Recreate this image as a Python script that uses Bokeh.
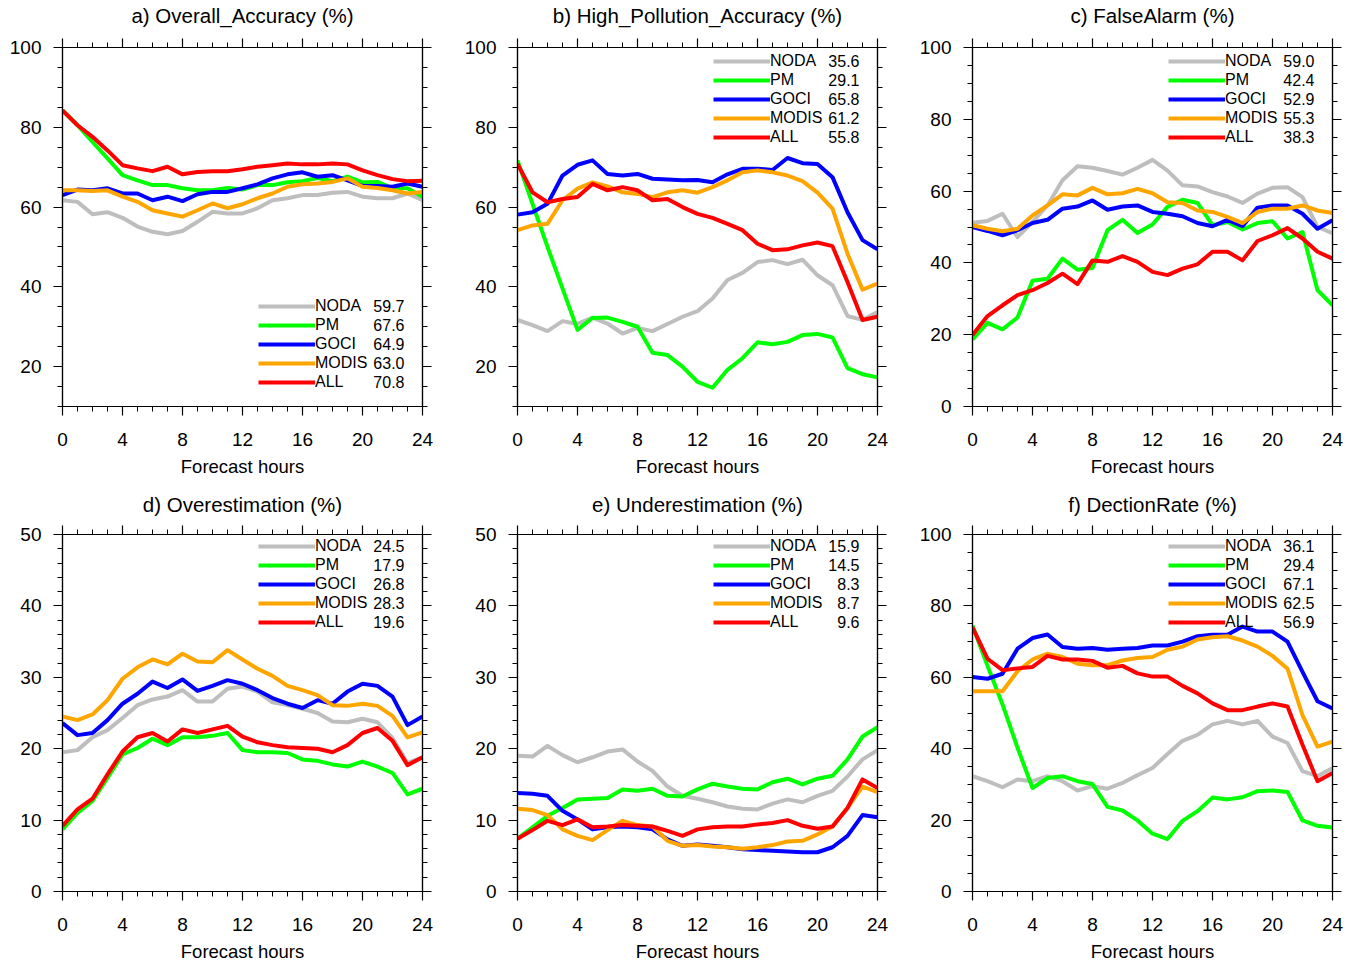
from bokeh.plotting import figure
from bokeh.models import Range1d, FixedTicker, LinearAxis, Legend, LegendItem, Label
from bokeh.layouts import column, row
from bokeh.embed import file_html
from bokeh.resources import INLINE

FONT = "Liberation Sans"

hours = list(range(25))
x_major = [0, 4, 8, 12, 16, 20, 24]
x_minor = list(range(25))

series_names = ["NODA", "PM", "GOCI", "MODIS", "ALL"]
series_colors = ["#bebebe", "#00ff00", "#0000ff", "#ffa500", "#ff0000"]

titles = ["a) Overall_Accuracy (%)", "b) High_Pollution_Accuracy (%)", "c) FalseAlarm (%)",
          "d) Overestimation (%)", "e) Underestimation (%)", "f) DectionRate (%)"]
x_label = "Forecast hours"

ticks_10_100 = [20, 40, 60, 80, 100]
minor_10_100 = list(range(10, 101, 5))
ticks_0_100 = [0, 20, 40, 60, 80, 100]
minor_0_100 = list(range(0, 101, 5))
ticks_0_50 = [0, 10, 20, 30, 40, 50]
minor_0_50 = list(range(0, 51, 2))

# a) Overall accuracy
a_noda = [61.7, 61.3, 58.2, 58.7, 57.3, 55.1, 53.8, 53.2, 54.0, 56.3, 58.8, 58.4, 58.4, 59.7, 61.7, 62.2, 63.0, 63.0, 63.6, 63.8, 62.6, 62.2, 62.2, 63.4, 61.7]
a_pm = [84.2, 80.5, 76.3, 72.2, 68.0, 66.7, 65.5, 65.5, 64.7, 64.2, 64.2, 64.8, 64.4, 65.5, 65.5, 66.2, 66.5, 67.3, 66.5, 67.6, 66.2, 66.3, 64.7, 64.7, 62.6]
a_goci = [63.0, 64.4, 64.2, 64.7, 63.4, 63.4, 61.7, 62.6, 61.5, 63.2, 63.8, 63.8, 64.7, 65.7, 67.2, 68.2, 68.7, 67.6, 68.0, 66.7, 65.3, 65.3, 65.1, 65.9, 65.1]
a_modis = [64.2, 64.2, 64.0, 64.2, 62.6, 61.3, 59.2, 58.4, 57.6, 59.2, 60.9, 59.7, 60.7, 62.2, 63.4, 65.1, 65.7, 65.9, 66.3, 67.2, 65.1, 64.8, 64.2, 63.4, 63.8]
a_all = [84.2, 80.5, 77.6, 74.2, 70.5, 69.7, 69.0, 70.1, 68.2, 68.8, 69.0, 69.0, 69.5, 70.1, 70.5, 70.9, 70.7, 70.7, 70.9, 70.7, 69.2, 68.0, 67.0, 66.5, 66.6]
a_means = [59.7, 67.6, 64.9, 63.0, 70.8]

# b) High pollution accuracy
b_noda = [31.7, 30.4, 28.9, 31.4, 30.7, 32.3, 30.8, 28.3, 29.7, 28.9, 30.7, 32.5, 33.9, 37.1, 41.7, 43.5, 46.2, 46.7, 45.7, 46.8, 42.9, 40.4, 32.7, 31.7, 33.7]
b_pm = [71.7, 60.8, 50.0, 39.6, 29.2, 32.2, 32.3, 31.2, 30.0, 23.5, 22.9, 20.0, 16.2, 14.7, 19.2, 22.1, 26.1, 25.6, 26.2, 27.9, 28.2, 27.3, 19.6, 18.1, 17.3]
b_goci = [58.1, 58.7, 60.8, 67.9, 70.6, 71.7, 68.3, 67.9, 68.3, 67.1, 66.9, 66.7, 66.8, 66.2, 68.2, 69.6, 69.6, 69.3, 72.3, 71.0, 70.8, 67.5, 58.7, 51.7, 49.4]
b_modis = [54.2, 55.4, 55.8, 61.7, 64.6, 66.2, 65.2, 63.7, 63.3, 62.5, 63.7, 64.2, 63.6, 65.0, 66.7, 68.7, 69.2, 68.7, 67.9, 66.5, 63.6, 59.6, 48.3, 39.3, 40.8]
b_all = [70.8, 63.7, 61.2, 62.0, 62.5, 65.8, 64.2, 65.0, 64.2, 61.7, 62.0, 60.0, 58.3, 57.3, 55.8, 54.2, 50.8, 49.2, 49.4, 50.4, 51.1, 50.2, 41.2, 31.7, 32.5]
b_means = [35.6, 29.1, 65.8, 61.2, 55.8]

# c) False alarm
c_noda = [51.2, 51.7, 53.7, 47.2, 51.4, 56.0, 63.0, 66.9, 66.5, 65.6, 64.6, 66.5, 68.7, 65.7, 61.6, 61.3, 59.7, 58.5, 56.7, 59.3, 60.9, 61.1, 58.3, 50.0, 48.3]
c_pm = [18.7, 23.3, 21.5, 24.8, 35.0, 35.6, 41.2, 38.1, 38.6, 49.1, 52.0, 48.3, 50.7, 55.6, 57.6, 56.7, 50.5, 51.4, 49.3, 51.1, 51.6, 46.8, 48.6, 32.4, 28.2]
c_goci = [50.0, 48.9, 47.7, 49.1, 51.1, 52.0, 55.1, 55.7, 57.4, 54.8, 55.7, 56.0, 54.2, 53.7, 53.0, 51.1, 50.2, 52.0, 50.2, 55.4, 56.0, 56.0, 53.7, 49.5, 51.9]
c_modis = [50.5, 49.5, 48.8, 49.5, 53.2, 56.0, 59.1, 58.8, 60.9, 59.1, 59.4, 60.6, 59.4, 56.9, 56.7, 54.6, 54.2, 52.8, 51.1, 54.2, 55.1, 55.1, 56.0, 54.6, 53.9]
c_all = [19.9, 25.2, 28.2, 31.0, 32.4, 34.4, 37.0, 34.1, 40.7, 40.3, 41.9, 40.3, 37.5, 36.6, 38.4, 39.6, 43.1, 43.1, 40.7, 46.1, 47.7, 49.7, 46.8, 43.1, 41.2]
c_means = [59.0, 42.4, 52.9, 55.3, 38.3]

# d) Overestimation
d_noda = [19.5, 19.8, 21.6, 22.6, 24.3, 26.1, 26.9, 27.3, 28.2, 26.6, 26.6, 28.4, 28.7, 28.0, 26.5, 26.1, 25.6, 25.0, 23.8, 23.7, 24.2, 23.7, 21.5, 18.0, 18.8]
d_pm = [8.7, 11.0, 12.7, 15.9, 19.2, 20.1, 21.4, 20.5, 21.6, 21.6, 21.8, 22.2, 19.8, 19.5, 19.5, 19.4, 18.5, 18.3, 17.8, 17.5, 18.2, 17.5, 16.6, 13.6, 14.4]
d_goci = [23.6, 21.9, 22.2, 24.0, 26.3, 27.7, 29.4, 28.5, 29.7, 28.1, 28.8, 29.6, 29.1, 28.2, 27.1, 26.3, 25.7, 26.8, 26.3, 28.0, 29.1, 28.8, 27.3, 23.3, 24.5]
d_modis = [24.5, 24.0, 24.8, 26.8, 29.8, 31.4, 32.5, 31.8, 33.3, 32.2, 32.1, 33.8, 32.5, 31.2, 30.2, 28.8, 28.2, 27.5, 26.1, 26.0, 26.3, 26.0, 24.6, 21.6, 22.3]
d_all = [9.2, 11.5, 13.0, 16.4, 19.6, 21.6, 22.2, 21.0, 22.7, 22.2, 22.7, 23.2, 21.7, 20.9, 20.5, 20.2, 20.1, 20.0, 19.5, 20.5, 22.2, 22.9, 21.1, 17.7, 18.8]
d_means = [24.5, 17.9, 26.8, 28.3, 19.6]

# e) Underestimation
e_noda = [19.0, 18.9, 20.4, 19.1, 18.1, 18.8, 19.6, 19.9, 18.2, 16.9, 14.7, 13.4, 13.0, 12.5, 11.9, 11.6, 11.5, 12.3, 12.9, 12.5, 13.4, 14.1, 16.1, 18.5, 19.8]
e_pm = [7.4, 9.0, 10.6, 11.7, 12.9, 13.0, 13.1, 14.3, 14.1, 14.4, 13.4, 13.3, 14.3, 15.1, 14.7, 14.4, 14.3, 15.3, 15.8, 15.0, 15.8, 16.2, 18.5, 21.7, 23.0]
e_goci = [13.8, 13.7, 13.4, 11.3, 10.1, 8.7, 9.0, 9.1, 9.0, 8.7, 7.3, 6.4, 6.6, 6.4, 6.2, 5.9, 5.8, 5.7, 5.6, 5.5, 5.5, 6.2, 7.8, 10.7, 10.4]
e_modis = [11.6, 11.4, 10.7, 8.7, 7.8, 7.2, 8.6, 9.9, 9.3, 9.1, 7.1, 6.4, 6.5, 6.3, 6.2, 6.0, 6.2, 6.5, 7.0, 7.1, 8.0, 9.1, 11.7, 14.7, 13.9]
e_all = [7.4, 8.6, 9.9, 9.3, 10.1, 9.0, 9.1, 9.3, 9.2, 9.1, 8.5, 7.8, 8.7, 9.0, 9.1, 9.1, 9.4, 9.6, 10.0, 9.2, 8.8, 9.1, 11.7, 15.7, 14.5]
e_means = [15.9, 14.5, 8.3, 8.7, 9.6]

# f) Detection rate
f_noda = [32.3, 30.9, 29.2, 31.4, 30.9, 32.3, 30.9, 28.3, 29.5, 28.8, 30.4, 32.6, 34.6, 38.5, 42.2, 43.9, 46.8, 47.8, 46.8, 47.8, 43.4, 41.6, 33.7, 32.3, 34.6]
f_pm = [74.5, 63.2, 52.4, 40.3, 29.0, 31.8, 32.3, 30.9, 30.1, 23.7, 22.7, 19.9, 16.2, 14.7, 19.8, 22.5, 26.3, 25.8, 26.4, 28.1, 28.3, 27.9, 19.9, 18.4, 17.9]
f_goci = [60.1, 59.6, 61.0, 68.0, 71.0, 72.0, 68.5, 68.0, 68.2, 67.7, 68.0, 68.2, 68.9, 68.9, 70.0, 71.5, 71.9, 71.9, 74.2, 72.8, 72.8, 70.0, 61.5, 53.3, 51.3]
f_modis = [56.1, 56.1, 56.1, 61.7, 65.0, 66.6, 65.7, 63.8, 63.4, 63.4, 64.7, 65.4, 65.7, 67.7, 68.6, 70.6, 71.2, 71.5, 70.3, 68.6, 66.0, 62.4, 49.4, 40.6, 42.0]
f_all = [74.0, 65.2, 62.0, 62.5, 62.9, 66.0, 65.0, 65.0, 64.6, 62.7, 63.2, 61.1, 60.2, 60.2, 57.6, 55.5, 52.7, 50.8, 50.8, 51.8, 52.7, 51.8, 41.1, 30.9, 33.2]
f_means = [36.1, 29.4, 67.1, 62.5, 56.9]

FRAME = 360
ROW_H = 18
ROW_GAP = 1


def style_axis(ax, show_labels=True):
    ax.axis_line_color = "black"
    ax.axis_line_width = 1.2
    ax.major_tick_line_color = "black"
    ax.major_tick_line_width = 1.2
    ax.minor_tick_line_color = "black"
    ax.minor_tick_line_width = 1.0
    ax.major_tick_in = 0
    ax.major_tick_out = 9
    ax.minor_tick_in = 0
    ax.minor_tick_out = 5
    ax.major_label_text_font = FONT
    if show_labels:
        ax.major_label_text_color = "black"
        ax.major_label_text_font_size = "19px"
    else:
        ax.major_label_text_color = None
        ax.major_label_text_alpha = 0
        ax.major_label_text_font_size = "1px"
        ax.major_label_standoff = 0
    ax.axis_label_text_font = FONT
    ax.axis_label_text_font_style = "normal"
    ax.axis_label_text_color = "black"


def make_panel(title, ylo, yhi, yticks, yminor, series, means, legend_top,
               width, height, left, right, top, bottom, title_standoff):
    p = figure(width=width, height=height, x_range=Range1d(0, 24), y_range=Range1d(ylo, yhi),
               output_backend="svg", toolbar_location=None,
               min_border_left=left, min_border_right=right,
               min_border_top=top, min_border_bottom=bottom)
    p.xgrid.visible = False
    p.ygrid.visible = False
    p.outline_line_color = "black"
    p.outline_line_width = 1.2
    p.background_fill_color = "white"
    p.border_fill_color = "white"

    xt = FixedTicker(ticks=x_major, minor_ticks=x_minor)
    yt = FixedTicker(ticks=yticks, minor_ticks=yminor)

    xa = p.xaxis[0]
    xa.ticker = xt
    style_axis(xa)
    xa.major_label_standoff = 17
    xa.axis_label = x_label
    xa.axis_label_text_font_size = "18.5px"
    xa.axis_label_standoff = 7

    ya = p.yaxis[0]
    ya.ticker = yt
    style_axis(ya)
    ya.major_label_standoff = 12

    top_ax = LinearAxis(ticker=xt)
    style_axis(top_ax, show_labels=False)
    top_ax.axis_label = title
    top_ax.axis_label_text_font_size = "20.5px"
    top_ax.axis_label_standoff = title_standoff
    p.add_layout(top_ax, "above")

    right_ax = LinearAxis(ticker=yt)
    style_axis(right_ax, show_labels=False)
    p.add_layout(right_ax, "right")

    renderers = []
    for vals, color in zip(series, series_colors):
        r = p.line(hours, vals, line_color=color, line_width=4, line_join="round")
        renderers.append(r)

    n = len(series_names)
    step = ROW_H + ROW_GAP
    leg_h = n * ROW_H + (n - 1) * ROW_GAP
    if legend_top:
        leg_bottom = FRAME - 6 - leg_h
    else:
        leg_bottom = 15
    legend = Legend(
        items=[LegendItem(label=nm, renderers=[r]) for nm, r in zip(series_names, renderers)],
        location=(196, leg_bottom), orientation="vertical",
        glyph_width=57, glyph_height=ROW_H, label_height=ROW_H, label_standoff=0,
        spacing=ROW_GAP, padding=0, margin=0,
        border_line_alpha=0, background_fill_alpha=0,
        label_text_font=FONT, label_text_font_size="16px", label_text_color="black",
    )
    p.add_layout(legend)

    for k, m in enumerate(means):
        yc = leg_bottom + leg_h - ROW_H / 2 - k * step + 1
        p.add_layout(Label(x=342, y=yc, x_units="screen", y_units="screen",
                           text=f"{m:.1f}", text_align="right", text_baseline="middle",
                           text_font=FONT, text_font_size="16px", text_color="black"))
    return p


TOP_A = 46
TOP_B = 43
H_TOP = 489
BOT_A = H_TOP - TOP_A - FRAME
BOT_B = 72
H_BOT = TOP_B + FRAME + BOT_B
W_AB = 455
W_C = 442
L = 62
R_AB = W_AB - L - FRAME
R_C = W_C - L - FRAME

pa = make_panel(titles[0], 10, 100, ticks_10_100, minor_10_100,
                [a_noda, a_pm, a_goci, a_modis, a_all], a_means, False,
                W_AB, H_TOP, L, R_AB, TOP_A, BOT_A, 12)
pb = make_panel(titles[1], 10, 100, ticks_10_100, minor_10_100,
                [b_noda, b_pm, b_goci, b_modis, b_all], b_means, True,
                W_AB, H_TOP, L, R_AB, TOP_A, BOT_A, 12)
pc = make_panel(titles[2], 0, 100, ticks_0_100, minor_0_100,
                [c_noda, c_pm, c_goci, c_modis, c_all], c_means, True,
                W_C, H_TOP, L, R_C, TOP_A, BOT_A, 12)
pd = make_panel(titles[3], 0, 50, ticks_0_50, minor_0_50,
                [d_noda, d_pm, d_goci, d_modis, d_all], d_means, True,
                W_AB, H_BOT, L, R_AB, TOP_B, BOT_B, 10)
pe = make_panel(titles[4], 0, 50, ticks_0_50, minor_0_50,
                [e_noda, e_pm, e_goci, e_modis, e_all], e_means, True,
                W_AB, H_BOT, L, R_AB, TOP_B, BOT_B, 10)
pf = make_panel(titles[5], 0, 100, ticks_0_100, minor_0_100,
                [f_noda, f_pm, f_goci, f_modis, f_all], f_means, True,
                W_C, H_BOT, L, R_C, TOP_B, BOT_B, 10)

layout = column(row(pa, pb, pc), row(pd, pe, pf))

open("out.html", "w").write(file_html(layout, INLINE))
